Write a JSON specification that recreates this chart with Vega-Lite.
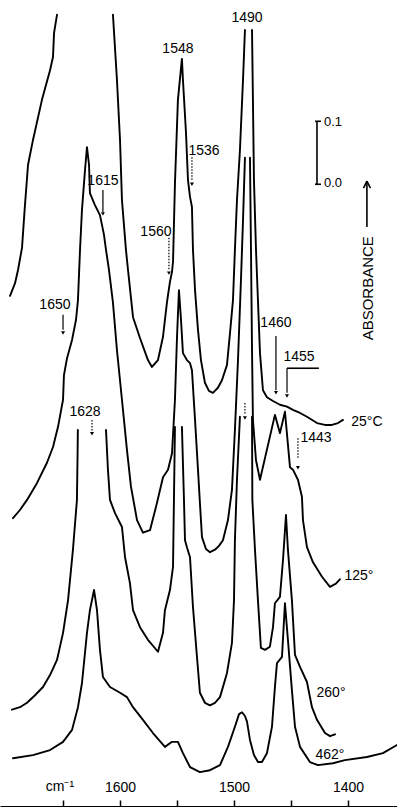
{
  "$schema": "https://vega.github.io/schema/vega-lite/v6.json",
  "width": 397,
  "height": 808,
  "padding": 0,
  "autosize": {"type": "none"},
  "background": "white",
  "config": {"view": {"stroke": null}},
  "datasets": {
    "curves": [
      {"seg":"25a","wn":1696.5,"A":0.813},{"seg":"25a","wn":1692.1,"A":0.833},{"seg":"25a","wn":1689.5,"A":0.854},{"seg":"25a","wn":1686.0,"A":0.889},{"seg":"25a","wn":1683.4,"A":0.957},{"seg":"25a","wn":1680.7,"A":1.021},{"seg":"25a","wn":1676.4,"A":1.060},{"seg":"25a","wn":1668.5,"A":1.124},{"seg":"25a","wn":1661.4,"A":1.171},{"seg":"25a","wn":1658.8,"A":1.192},{"seg":"25a","wn":1657.9,"A":1.230},{"seg":"25a","wn":1655.3,"A":1.259},
      {"seg":"25b","wn":1606.2,"A":1.259},{"seg":"25b","wn":1604.4,"A":1.206},{"seg":"25b","wn":1602.7,"A":1.156},{"seg":"25b","wn":1600.0,"A":1.060},{"seg":"25b","wn":1598.3,"A":0.965},{"seg":"25b","wn":1594.8,"A":0.886},{"seg":"25b","wn":1593.0,"A":0.854},{"seg":"25b","wn":1588.6,"A":0.779},{"seg":"25b","wn":1582.5,"A":0.746},{"seg":"25b","wn":1575.5,"A":0.711},{"seg":"25b","wn":1572.0,"A":0.700},{"seg":"25b","wn":1566.7,"A":0.711},{"seg":"25b","wn":1562.3,"A":0.748},{"seg":"25b","wn":1558.8,"A":0.803},{"seg":"25b","wn":1556.2,"A":0.835},{"seg":"25b","wn":1554.4,"A":0.851},{"seg":"25b","wn":1553.5,"A":0.867},{"seg":"25b","wn":1551.8,"A":0.992},{"seg":"25b","wn":1549.2,"A":1.124},{"seg":"25b","wn":1545.7,"A":1.189},{"seg":"25b","wn":1544.8,"A":1.156},{"seg":"25b","wn":1542.1,"A":1.071},{"seg":"25b","wn":1540.4,"A":0.997},{"seg":"25b","wn":1538.6,"A":0.970},{"seg":"25b","wn":1536.9,"A":0.954},{"seg":"25b","wn":1536.0,"A":0.886},{"seg":"25b","wn":1534.2,"A":0.822},{"seg":"25b","wn":1531.6,"A":0.759},{"seg":"25b","wn":1529.0,"A":0.711},{"seg":"25b","wn":1525.5,"A":0.675},{"seg":"25b","wn":1522.0,"A":0.662},{"seg":"25b","wn":1518.5,"A":0.659},{"seg":"25b","wn":1514.1,"A":0.667},{"seg":"25b","wn":1510.6,"A":0.679},{"seg":"25b","wn":1506.2,"A":0.703},{"seg":"25b","wn":1503.5,"A":0.754},{"seg":"25b","wn":1500.9,"A":0.806},{"seg":"25b","wn":1499.2,"A":0.886},{"seg":"25b","wn":1497.4,"A":0.965},{"seg":"25b","wn":1494.8,"A":1.044},{"seg":"25b","wn":1492.1,"A":1.156},{"seg":"25b","wn":1490.4,"A":1.235},
      {"seg":"25c","wn":1484.2,"A":1.235},{"seg":"25c","wn":1483.4,"A":1.124},{"seg":"25c","wn":1482.5,"A":0.997},{"seg":"25c","wn":1480.7,"A":0.886},{"seg":"25c","wn":1479.0,"A":0.806},{"seg":"25c","wn":1477.2,"A":0.722},{"seg":"25c","wn":1474.6,"A":0.663},{"seg":"25c","wn":1471.1,"A":0.652},{"seg":"25c","wn":1465.8,"A":0.646},{"seg":"25c","wn":1459.7,"A":0.640},{"seg":"25c","wn":1453.5,"A":0.637},{"seg":"25c","wn":1448.3,"A":0.632},{"seg":"25c","wn":1442.1,"A":0.627},{"seg":"25c","wn":1436.0,"A":0.621},{"seg":"25c","wn":1427.2,"A":0.611},{"seg":"25c","wn":1420.2,"A":0.608},{"seg":"25c","wn":1414.1,"A":0.608},{"seg":"25c","wn":1408.8,"A":0.611},{"seg":"25c","wn":1404.4,"A":0.616},
      {"seg":"125a","wn":1693.9,"A":0.460},{"seg":"125a","wn":1687.8,"A":0.473},{"seg":"125a","wn":1681.6,"A":0.489},{"seg":"125a","wn":1672.8,"A":0.516},{"seg":"125a","wn":1664.1,"A":0.548},{"seg":"125a","wn":1658.8,"A":0.573},{"seg":"125a","wn":1654.4,"A":0.605},{"seg":"125a","wn":1650.0,"A":0.648},{"seg":"125a","wn":1649.2,"A":0.687},{"seg":"125a","wn":1646.5,"A":0.714},{"seg":"125a","wn":1642.1,"A":0.743},{"seg":"125a","wn":1638.6,"A":0.775},{"seg":"125a","wn":1636.9,"A":0.806},{"seg":"125a","wn":1635.1,"A":0.886},{"seg":"125a","wn":1633.4,"A":0.949},{"seg":"125a","wn":1630.7,"A":1.013},{"seg":"125a","wn":1629.0,"A":1.049},{"seg":"125a","wn":1627.2,"A":1.021},{"seg":"125a","wn":1626.4,"A":0.976},{"seg":"125a","wn":1622.0,"A":0.957},{"seg":"125a","wn":1617.6,"A":0.941},{"seg":"125a","wn":1614.1,"A":0.910},{"seg":"125a","wn":1612.3,"A":0.886},{"seg":"125a","wn":1609.7,"A":0.854},{"seg":"125a","wn":1606.2,"A":0.802},{"seg":"125a","wn":1602.7,"A":0.727},{"seg":"125a","wn":1598.3,"A":0.648},{"seg":"125a","wn":1593.9,"A":0.568},{"seg":"125a","wn":1590.4,"A":0.510},{"seg":"125a","wn":1585.1,"A":0.457},{"seg":"125a","wn":1579.9,"A":0.437},{"seg":"125a","wn":1573.7,"A":0.441},{"seg":"125a","wn":1567.6,"A":0.484},{"seg":"125a","wn":1562.3,"A":0.525},{"seg":"125a","wn":1557.9,"A":0.537},{"seg":"125a","wn":1554.4,"A":0.563},{"seg":"125a","wn":1551.8,"A":0.648},{"seg":"125a","wn":1550.0,"A":0.748},{"seg":"125a","wn":1548.3,"A":0.822},{"seg":"125a","wn":1546.5,"A":0.775},{"seg":"125a","wn":1544.8,"A":0.722},{"seg":"125a","wn":1541.3,"A":0.711},{"seg":"125a","wn":1538.6,"A":0.706},{"seg":"125a","wn":1536.9,"A":0.695},{"seg":"125a","wn":1534.2,"A":0.616},{"seg":"125a","wn":1531.6,"A":0.537},{"seg":"125a","wn":1529.9,"A":0.484},{"seg":"125a","wn":1528.1,"A":0.430},{"seg":"125a","wn":1524.6,"A":0.411},{"seg":"125a","wn":1521.1,"A":0.406},{"seg":"125a","wn":1516.7,"A":0.410},{"seg":"125a","wn":1513.2,"A":0.416},{"seg":"125a","wn":1509.7,"A":0.425},{"seg":"125a","wn":1505.3,"A":0.457},{"seg":"125a","wn":1501.8,"A":0.505},{"seg":"125a","wn":1499.2,"A":0.600},{"seg":"125a","wn":1496.5,"A":0.711},{"seg":"125a","wn":1493.9,"A":0.838},{"seg":"125a","wn":1492.1,"A":0.933},{"seg":"125a","wn":1490.4,"A":1.032},
      {"seg":"125b","wn":1486.0,"A":1.032},{"seg":"125b","wn":1485.1,"A":0.886},{"seg":"125b","wn":1484.2,"A":0.727},{"seg":"125b","wn":1483.4,"A":0.616},{"seg":"125b","wn":1480.7,"A":0.552},{"seg":"125b","wn":1477.2,"A":0.521},{"seg":"125b","wn":1464.1,"A":0.624},{"seg":"125b","wn":1459.7,"A":0.595},{"seg":"125b","wn":1455.3,"A":0.629},{"seg":"125b","wn":1450.9,"A":0.541},{"seg":"125b","wn":1448.3,"A":0.537},{"seg":"125b","wn":1443.9,"A":0.521},{"seg":"125b","wn":1440.4,"A":0.494},{"seg":"125b","wn":1439.5,"A":0.457},{"seg":"125b","wn":1436.0,"A":0.414},{"seg":"125b","wn":1430.7,"A":0.390},{"seg":"125b","wn":1422.8,"A":0.367},{"seg":"125b","wn":1415.8,"A":0.351},{"seg":"125b","wn":1410.6,"A":0.356},{"seg":"125b","wn":1407.1,"A":0.363},
      {"seg":"260a","wn":1694.8,"A":0.156},{"seg":"260a","wn":1687.8,"A":0.160},{"seg":"260a","wn":1681.6,"A":0.167},{"seg":"260a","wn":1674.6,"A":0.179},{"seg":"260a","wn":1667.6,"A":0.192},{"seg":"260a","wn":1661.4,"A":0.211},{"seg":"260a","wn":1655.3,"A":0.235},{"seg":"260a","wn":1650.0,"A":0.278},{"seg":"260a","wn":1645.6,"A":0.330},{"seg":"260a","wn":1641.3,"A":0.410},{"seg":"260a","wn":1637.8,"A":0.489},{"seg":"260a","wn":1637.2,"A":0.568},{"seg":"260a","wn":1637.0,"A":0.600},
      {"seg":"260b","wn":1612.3,"A":0.600},{"seg":"260b","wn":1610.6,"A":0.537},{"seg":"260b","wn":1608.8,"A":0.489},{"seg":"260b","wn":1604.4,"A":0.468},{"seg":"260b","wn":1598.3,"A":0.446},{"seg":"260b","wn":1595.6,"A":0.398},{"seg":"260b","wn":1591.3,"A":0.357},{"seg":"260b","wn":1588.6,"A":0.314},{"seg":"260b","wn":1582.5,"A":0.287},{"seg":"260b","wn":1575.5,"A":0.267},{"seg":"260b","wn":1566.7,"A":0.248},{"seg":"260b","wn":1562.3,"A":0.278},{"seg":"260b","wn":1560.6,"A":0.314},{"seg":"260b","wn":1556.2,"A":0.346},{"seg":"260b","wn":1553.5,"A":0.383},{"seg":"260b","wn":1552.7,"A":0.489},{"seg":"260b","wn":1551.8,"A":0.605},
      {"seg":"260c","wn":1545.7,"A":0.605},{"seg":"260c","wn":1543.9,"A":0.489},{"seg":"260c","wn":1543.0,"A":0.425},{"seg":"260c","wn":1541.3,"A":0.414},{"seg":"260c","wn":1538.6,"A":0.398},{"seg":"260c","wn":1536.0,"A":0.319},{"seg":"260c","wn":1532.5,"A":0.240},{"seg":"260c","wn":1529.9,"A":0.183},{"seg":"260c","wn":1525.5,"A":0.167},{"seg":"260c","wn":1521.1,"A":0.163},{"seg":"260c","wn":1516.7,"A":0.167},{"seg":"260c","wn":1512.3,"A":0.176},{"seg":"260c","wn":1506.2,"A":0.214},{"seg":"260c","wn":1501.8,"A":0.262},{"seg":"260c","wn":1500.0,"A":0.330},{"seg":"260c","wn":1499.2,"A":0.425},{"seg":"260c","wn":1497.4,"A":0.521},{"seg":"260c","wn":1494.8,"A":0.621},
      {"seg":"260d","wn":1484.2,"A":0.621},{"seg":"260d","wn":1483.9,"A":0.489},{"seg":"260d","wn":1481.6,"A":0.410},{"seg":"260d","wn":1479.0,"A":0.330},{"seg":"260d","wn":1476.4,"A":0.254},{"seg":"260d","wn":1472.8,"A":0.251},{"seg":"260d","wn":1468.5,"A":0.256},{"seg":"260d","wn":1465.8,"A":0.287},{"seg":"260d","wn":1464.1,"A":0.325},{"seg":"260d","wn":1459.7,"A":0.335},{"seg":"260d","wn":1457.0,"A":0.394},{"seg":"260d","wn":1454.4,"A":0.465},{"seg":"260d","wn":1452.7,"A":0.410},{"seg":"260d","wn":1449.2,"A":0.330},{"seg":"260d","wn":1446.5,"A":0.243},{"seg":"260d","wn":1442.1,"A":0.224},{"seg":"260d","wn":1436.0,"A":0.200},{"seg":"260d","wn":1431.6,"A":0.160},{"seg":"260d","wn":1427.2,"A":0.140},{"seg":"260d","wn":1420.2,"A":0.119},{"seg":"260d","wn":1415.8,"A":0.114},{"seg":"260d","wn":1411.4,"A":0.117},
      {"seg":"462","wn":1693.9,"A":0.079},{"seg":"462","wn":1676.4,"A":0.084},{"seg":"462","wn":1661.4,"A":0.092},{"seg":"462","wn":1650.0,"A":0.105},{"seg":"462","wn":1642.1,"A":0.124},{"seg":"462","wn":1636.9,"A":0.160},{"seg":"462","wn":1633.4,"A":0.198},{"seg":"462","wn":1629.0,"A":0.278},{"seg":"462","wn":1626.4,"A":0.314},{"seg":"462","wn":1622.8,"A":0.346},{"seg":"462","wn":1620.2,"A":0.314},{"seg":"462","wn":1617.6,"A":0.251},{"seg":"462","wn":1615.0,"A":0.208},{"seg":"462","wn":1608.8,"A":0.192},{"seg":"462","wn":1600.0,"A":0.183},{"seg":"462","wn":1593.9,"A":0.176},{"seg":"462","wn":1588.6,"A":0.160},{"seg":"462","wn":1579.9,"A":0.140},{"seg":"462","wn":1571.1,"A":0.119},{"seg":"462","wn":1560.6,"A":0.097},{"seg":"462","wn":1554.4,"A":0.105},{"seg":"462","wn":1549.2,"A":0.105},{"seg":"462","wn":1544.8,"A":0.087},{"seg":"462","wn":1538.6,"A":0.065},{"seg":"462","wn":1529.9,"A":0.057},{"seg":"462","wn":1521.1,"A":0.060},{"seg":"462","wn":1512.3,"A":0.068},{"seg":"462","wn":1505.3,"A":0.097},{"seg":"462","wn":1499.2,"A":0.129},{"seg":"462","wn":1495.6,"A":0.149},{"seg":"462","wn":1493.0,"A":0.152},{"seg":"462","wn":1490.4,"A":0.146},{"seg":"462","wn":1488.6,"A":0.137},{"seg":"462","wn":1486.0,"A":0.108},{"seg":"462","wn":1482.5,"A":0.084},{"seg":"462","wn":1479.0,"A":0.073},{"seg":"462","wn":1475.5,"A":0.073},{"seg":"462","wn":1471.1,"A":0.087},{"seg":"462","wn":1466.7,"A":0.129},{"seg":"462","wn":1464.1,"A":0.192},{"seg":"462","wn":1462.3,"A":0.230},{"seg":"462","wn":1457.9,"A":0.240},{"seg":"462","wn":1455.3,"A":0.325},{"seg":"462","wn":1452.7,"A":0.267},{"seg":"462","wn":1449.2,"A":0.187},{"seg":"462","wn":1446.5,"A":0.129},{"seg":"462","wn":1442.1,"A":0.097},{"seg":"462","wn":1433.4,"A":0.073},{"seg":"462","wn":1426.4,"A":0.068},{"seg":"462","wn":1413.2,"A":0.071},{"seg":"462","wn":1402.7,"A":0.076},{"seg":"462","wn":1383.4,"A":0.081},{"seg":"462","wn":1369.3,"A":0.087},{"seg":"462","wn":1357.0,"A":0.100}
    ],
    "labels": [
      {"wn":1549.2,"A":1.205,"t":"1548"},
      {"wn":1488.6,"A":1.254,"t":"1490"},
      {"wn":1526.3,"A":1.043,"t":"1536"},
      {"wn":1615.0,"A":0.995,"t":"1615"},
      {"wn":1568.5,"A":0.914,"t":"1560"},
      {"wn":1657.1,"A":0.798,"t":"1650"},
      {"wn":1463.2,"A":0.770,"t":"1460"},
      {"wn":1443.0,"A":0.716,"t":"1455"},
      {"wn":1428.1,"A":0.587,"t":"1443"},
      {"wn":1630.7,"A":0.629,"t":"1628"},
      {"wn":1383.4,"A":0.613,"t":"25°C"},
      {"wn":1390.4,"A":0.368,"t":"125°"},
      {"wn":1414.9,"A":0.183,"t":"260°"},
      {"wn":1415.8,"A":0.084,"t":"462°"},
      {"wn":1652.7,"A":0.033,"t":"cm⁻¹"}
    ],
    "scaleLabels": [
      {"wn":1413.2,"A":1.089,"t":"0.1"},
      {"wn":1413.2,"A":0.992,"t":"0.0"}
    ],
    "arrows": [
      {"wn":1536.9,"a1":1.033,"a2":0.997,"style":"dotted"},
      {"wn":1615.0,"a1":0.981,"a2":0.946,"style":"solid"},
      {"wn":1557.1,"a1":0.905,"a2":0.854,"style":"dotted"},
      {"wn":1650.0,"a1":0.783,"a2":0.759,"style":"solid"},
      {"wn":1463.2,"a1":0.749,"a2":0.663,"style":"solid"},
      {"wn":1453.5,"a1":0.698,"a2":0.659,"style":"solid"},
      {"wn":1443.9,"a1":0.587,"a2":0.556,"style":"dotted"},
      {"wn":1624.6,"a1":0.616,"a2":0.597,"style":"dotted"},
      {"wn":1490.4,"a1":0.643,"a2":0.624,"style":"dotted"}
    ],
    "heads": [
      {"wn":1536.9,"A":0.990},
      {"wn":1615.0,"A":0.943},
      {"wn":1557.1,"A":0.849},
      {"wn":1650.0,"A":0.754},
      {"wn":1463.2,"A":0.659},
      {"wn":1453.5,"A":0.654},
      {"wn":1443.9,"A":0.540},
      {"wn":1624.6,"A":0.594},
      {"wn":1490.4,"A":0.619}
    ],
    "segs": [
      {"wn1":1453.5,"wn2":1425.5,"a1":0.698,"a2":0.698},
      {"wn1":1427.2,"wn2":1427.2,"a1":1.090,"a2":0.990},
      {"wn1":1428.9,"wn2":1423.7,"a1":1.090,"a2":1.090},
      {"wn1":1428.9,"wn2":1423.7,"a1":0.990,"a2":0.990},
      {"wn1":1383.4,"wn2":1383.4,"a1":0.922,"a2":0.995},
      {"wn1":1386.4,"wn2":1383.4,"a1":0.984,"a2":0.995},
      {"wn1":1380.3,"wn2":1383.4,"a1":0.984,"a2":0.995}
    ],
    "abs": [
      {"wn":1382.5,"A":0.825,"t":"ABSORBANCE"}
    ]
  },
  "layer": [
    {
      "data": {"name": "curves"},
      "mark": {"type": "line", "color": "black", "strokeWidth": 1.9, "strokeJoin": "round", "strokeCap": "round"},
      "encoding": {
        "x": {
          "field": "wn", "type": "quantitative",
          "scale": {"domain": [1357, 1705.3], "reverse": true, "nice": false, "zero": false},
          "axis": {
            "title": null, "values": [1650, 1600, 1550, 1500, 1450, 1400], "format": "d",
            "labelExpr": "datum.value % 100 == 0 ? datum.label : ''",
            "offset": -2, "tickSize": -6, "tickWidth": 1.5, "tickColor": "black",
            "domainColor": "black", "domainWidth": 1.2, "grid": false,
            "labelPadding": -9, "labelBaseline": "alphabetic", "labelDx": 6,
            "labelFont": "Liberation Sans", "labelFontSize": 14, "labelColor": "black"
          }
        },
        "y": {"field": "A", "type": "quantitative", "scale": {"domain": [0, 1.2825], "nice": false, "zero": false}, "axis": null},
        "detail": {"field": "seg", "type": "nominal"}
      }
    },
    {
      "data": {"name": "arrows"},
      "mark": {"type": "rule", "color": "black", "strokeWidth": 1.2},
      "encoding": {
        "x": {"field": "wn", "type": "quantitative", "title": null},
        "y": {"field": "a1", "type": "quantitative", "axis": null},
        "y2": {"field": "a2"},
        "strokeDash": {"field": "style", "type": "nominal", "scale": {"domain": ["solid", "dotted"], "range": [[1, 0], [1.5, 1.5]]}, "legend": null}
      }
    },
    {
      "data": {"name": "heads"},
      "mark": {"type": "point", "shape": "triangle-down", "filled": true, "color": "black", "size": 16, "opacity": 1},
      "encoding": {
        "x": {"field": "wn", "type": "quantitative", "title": null},
        "y": {"field": "A", "type": "quantitative", "axis": null}
      }
    },
    {
      "data": {"name": "segs"},
      "mark": {"type": "rule", "color": "black", "strokeWidth": 1.6},
      "encoding": {
        "x": {"field": "wn1", "type": "quantitative", "title": null},
        "x2": {"field": "wn2"},
        "y": {"field": "a1", "type": "quantitative", "axis": null},
        "y2": {"field": "a2"}
      }
    },
    {
      "data": {"name": "labels"},
      "mark": {"type": "text", "font": "Liberation Sans", "fontSize": 14, "color": "black", "align": "center", "baseline": "middle"},
      "encoding": {
        "x": {"field": "wn", "type": "quantitative", "title": null},
        "y": {"field": "A", "type": "quantitative", "axis": null},
        "text": {"field": "t", "type": "nominal"}
      }
    },
    {
      "data": {"name": "scaleLabels"},
      "mark": {"type": "text", "font": "Liberation Sans", "fontSize": 13, "color": "black", "align": "center", "baseline": "middle"},
      "encoding": {
        "x": {"field": "wn", "type": "quantitative", "title": null},
        "y": {"field": "A", "type": "quantitative", "axis": null},
        "text": {"field": "t", "type": "nominal"}
      }
    },
    {
      "data": {"name": "abs"},
      "mark": {"type": "text", "font": "Liberation Sans", "fontSize": 15, "color": "black", "align": "center", "baseline": "middle", "angle": -90},
      "encoding": {
        "x": {"field": "wn", "type": "quantitative", "title": null},
        "y": {"field": "A", "type": "quantitative", "axis": null},
        "text": {"field": "t", "type": "nominal"}
      }
    }
  ]
}
